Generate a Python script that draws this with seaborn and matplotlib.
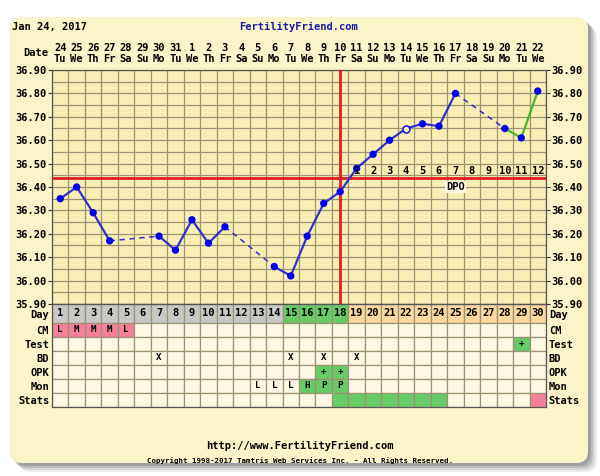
import matplotlib
matplotlib.use("Agg")
import numpy as np
import pandas as pd
import matplotlib.pyplot as plt
from matplotlib.patches import FancyBboxPatch
import seaborn as sns

# --- chart data (cycle Jan 24 - Feb 22, 2017) ---
cycle_days = list(range(1, 31))
dates = ["24", "25", "26", "27", "28", "29", "30", "31", "1", "2", "3", "4", "5", "6", "7",
         "8", "9", "10", "11", "12", "13", "14", "15", "16", "17", "18", "19", "20", "21", "22"]
weekdays = ["Tu", "We", "Th", "Fr", "Sa", "Su", "Mo"] * 4 + ["Tu", "We"]
temps = [36.35, 36.40, 36.29, 36.17, None, None, 36.19, 36.13, 36.26, 36.16,
         36.23, None, None, 36.06, 36.02, 36.19, 36.33, 36.38, 36.48, 36.54,
         36.60, 36.65, 36.67, 36.66, 36.80, None, None, 36.65, 36.61, 36.81]
open_days = [22]          # discarded / open temp
green_line_from = 28      # line drawn green from this day
coverline = 36.44
ovulation_day = 18
dpo_days = [19, 20, 21, 22, 23, 24, 25, 26, 27, 28, 29, 30]
dpo_labels = ["1", "2", "3", "4", "5", "6", "7", "8", "9", "10", "11", "12"]
temp_ticks = [35.90, 36.00, 36.10, 36.20, 36.30, 36.40, 36.50, 36.60, 36.70, 36.80, 36.90]

row_names = ["Day", "CM", "Test", "BD", "OPK", "Mon", "Stats"]
fertile_days = [15, 16, 17, 18]
cm_marks = {1: "L", 2: "M", 3: "M", 4: "M", 5: "L"}
test_marks = {29: "+"}
bd_days = [7, 15, 17, 19]
opk_marks = {17: "+", 18: "+"}
mon_marks = {13: "L", 14: "L", 15: "L", 16: "H", 17: "P", 18: "P"}
mon_green = [16, 17, 18]
stats_green = [18, 19, 20, 21, 22, 23, 24]
stats_pink = [30]

# --- colours ---
panel_col = "#fbf4c8"
plot_col = "#f9efb4"
cell_col = "#fdf8e6"
grid_col = "#9a9474"
blue = "#0000ee"
line_blue = "#3030cc"
green = "#66cc66"
pink = "#f5809c"
gray = "#c8c8c8"
orange = "#fdd7a0"
red = "#dd2020"

plt.rcParams["font.family"] = ["DejaVu Sans Mono"]
plt.rcParams["font.weight"] = "bold"
fs = 7.5

fig = plt.figure(figsize=(6, 4.76), dpi=100)

# background panel in pixel coords
bg = fig.add_axes([0, 0, 1, 1])
bg.set_xlim(0, 600)
bg.set_ylim(476, 0)
bg.axis("off")
for i, a in enumerate([0.10, 0.14, 0.18, 0.25]):
    off = 9 - 2 * i
    bg.add_patch(FancyBboxPatch((10 + off, 17 + off), 578, 446,
                                boxstyle="round,pad=0,rounding_size=12",
                                fc="#505050", ec="none", alpha=a))
bg.add_patch(FancyBboxPatch((10, 17), 578, 446, boxstyle="round,pad=0,rounding_size=12",
                            fc=panel_col, ec="none"))
bg.text(12, 27, "Jan 24, 2017", fontsize=fs, ha="left", va="center", fontweight="bold")
bg.text(298, 27, "FertilityFriend.com", fontsize=fs, ha="center", va="center",
        color="#1a1aa6", fontweight="bold")
bg.text(48, 53, "Date", fontsize=fs, ha="right", va="center", fontweight="bold")
bg.text(300, 446, "http://www.FertilityFriend.com", fontsize=fs, ha="center", va="center",
        fontweight="bold")
bg.text(300, 461, "Copyright 1998-2017 Tamtris Web Services Inc. - All Rights Reserved.",
        fontsize=5.4, ha="center", va="center")

# --- temperature chart ---
ax = fig.add_axes([52 / 600, 1 - 304 / 476, 494 / 600, 234 / 476])
ax.set_facecolor(plot_col)
ax.set_xlim(0.5, 30.5)
ax.set_ylim(35.90, 36.90)
ax.set_xticks(np.arange(0.5, 31, 1))
ax.set_xticklabels([])
ax.tick_params(axis="x", length=0)
ax.set_yticks(temp_ticks)
ax.set_yticklabels([f"{t:.2f}" for t in temp_ticks])
ax.set_yticks(np.arange(35.95, 36.90, 0.1), minor=True)
ax.tick_params(axis="y", which="major", labelsize=fs, length=3, pad=1,
               left=True, right=True, labelleft=True, labelright=True, color="#333")
ax.tick_params(axis="y", which="minor", length=0)
ax.grid(which="both", color=grid_col, lw=0.9)
ax.set_axisbelow(True)
for s in ax.spines.values():
    s.set_color("#555")
    s.set_linewidth(0.9)

for d, dt, wd in zip(cycle_days, dates, weekdays):
    ax.text(d, 1.094, dt, transform=ax.get_xaxis_transform(), ha="center", va="center",
            fontsize=fs, fontweight="bold")
    ax.text(d, 1.047, wd, transform=ax.get_xaxis_transform(), ha="center", va="center",
            fontsize=fs, fontweight="bold")

# coverline and ovulation line
ax.axhline(coverline, color=red, lw=2, zorder=3)
ax.axvline(ovulation_day, color=red, lw=2, zorder=3)

# line segments: solid between consecutive days, dashed over gaps
pts = [(d, t) for d, t in zip(cycle_days, temps) if t is not None]
rows = []
for k, ((d0, t0), (d1, t1)) in enumerate(zip(pts[:-1], pts[1:])):
    kind = "solid" if d1 - d0 == 1 else "gap"
    phase = "green" if d0 >= green_line_from else "blue"
    rows.append({"seg": k, "day": d0, "temp": t0, "kind": kind, "phase": phase})
    rows.append({"seg": k, "day": d1, "temp": t1, "kind": kind, "phase": phase})
segs = pd.DataFrame(rows)
sns.lineplot(data=segs, x="day", y="temp", units="seg", estimator=None, sort=False,
             hue="phase", palette={"blue": line_blue, "green": "#44bb22"},
             style="kind", dashes={"solid": "", "gap": (3.5, 3)},
             size="kind", sizes={"solid": 1.6, "gap": 1.1},
             legend=False, ax=ax, zorder=4)

pdf = pd.DataFrame(pts, columns=["day", "temp"])
filled = pdf[~pdf["day"].isin(open_days)]
hollow = pdf[pdf["day"].isin(open_days)]
sns.scatterplot(data=filled, x="day", y="temp", color=blue, s=28, edgecolor="none",
                ax=ax, zorder=5)
sns.scatterplot(data=hollow, x="day", y="temp", facecolor=plot_col, edgecolor=blue,
                s=26, linewidth=1, ax=ax, zorder=5)
ax.set_xlabel("")
ax.set_ylabel("")

for d, lab in zip(dpo_days, dpo_labels):
    ax.text(d, 36.468, lab, ha="center", va="center", fontsize=fs, fontweight="bold", zorder=6)
ax.text(25, 36.40, "DPO", ha="center", va="center", fontsize=fs, fontweight="bold", zorder=6,
        bbox=dict(fc=cell_col, ec="none", pad=1))

# --- chart table below ---
row_h = [19, 14, 14, 14, 14, 14, 14]
row_top = [0, 19, 33, 47, 61, 75, 89]
tab = fig.add_axes([52 / 600, 1 - 407 / 476, 494 / 600, 103 / 476])
tab.set_xlim(0.5, 30.5)
tab.set_ylim(103, 0)
tab.set_facecolor(cell_col)


def day_color(d):
    if d in fertile_days:
        return green
    if d > ovulation_day:
        return orange
    return gray


row_colors = [
    [day_color(d) for d in cycle_days],
    [pink if d in cm_marks else cell_col for d in cycle_days],
    [green if d in test_marks else cell_col for d in cycle_days],
    [cell_col for d in cycle_days],
    [green if d in opk_marks else cell_col for d in cycle_days],
    [green if d in mon_green else cell_col for d in cycle_days],
    [green if d in stats_green else pink if d in stats_pink else cell_col for d in cycle_days],
]
for r in range(len(row_names)):
    tab.bar(cycle_days, row_h[r], bottom=row_top[r], width=1, color=row_colors[r],
            edgecolor=grid_col, linewidth=0.9)

row_text = [
    {d: str(d) for d in cycle_days},
    cm_marks,
    test_marks,
    {d: "X" for d in bd_days},
    opk_marks,
    mon_marks,
    {},
]
for r, marks in enumerate(row_text):
    cy = row_top[r] + row_h[r] / 2
    for d, s in marks.items():
        tab.text(d, cy, s, ha="center", va="center", fontweight="bold",
                 fontsize=fs if r == 0 else 6.6)

tab.set_xticks([])
tab.set_yticks([t + h / 2 for t, h in zip(row_top, row_h)])
tab.set_yticklabels(row_names)
tab.tick_params(axis="y", length=0, pad=2, labelsize=fs, left=True, right=False,
                labelleft=True, labelright=True)
for s in tab.spines.values():
    s.set_color("#555")
    s.set_linewidth(0.9)

fig.savefig("out.png", dpi=100)
